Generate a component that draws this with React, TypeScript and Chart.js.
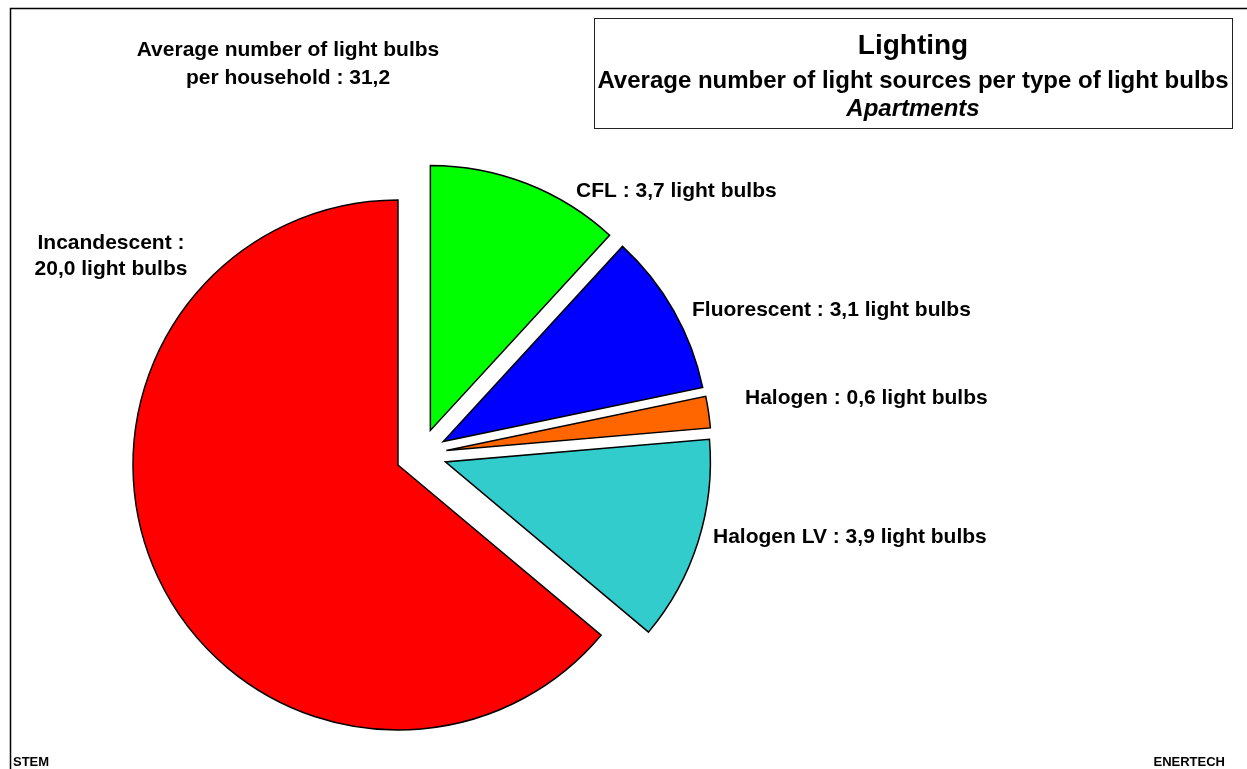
import React, { useEffect, useRef } from "react";
import { Chart, registerables } from "chart.js";

Chart.register(...registerables);

// ---- Data ----
const categories = ["CFL", "Fluorescent", "Halogen", "Halogen LV", "Incandescent"];
const bulbCounts = [3.7, 3.1, 0.6, 3.9, 20.0];
const sliceColors = ["#00FF00", "#0000FF", "#FF6600", "#33CCCC", "#FF0000"];
const averageTotal = "31,2";
const titleLines = ["Lighting", "Average number of light sources per type of light bulbs", "Apartments"];
const headlineLines = ["Average number of light bulbs", `per household : ${averageTotal}`];
const footerLeft = "STEM";
const footerRight = "ENERTECH";

// ---- Layout / style constants ----
const W = 1247;
const H = 769;
const EXPLODE = 25.5;
const RADIUS = 265;
const CENTER_X = 421.1;
const CENTER_Y = 454.2;
const FONT = "'Liberation Sans', Arial, Helvetica, sans-serif";

// label anchor: [x, baseline y, align]
const labelAnchors: [number, number, CanvasTextAlign][] = [
  [576, 197, "left"],
  [692, 316, "left"],
  [745, 404, "left"],
  [713, 543, "left"],
  [111, 249, "center"],
];

const fmt = (v: number) => v.toFixed(1).replace(".", ",");

const explodePlugin = {
  id: "explodeSlices",
  afterDatasetsUpdate(chart: any) {
    const meta = chart.getDatasetMeta(0);
    meta.data.forEach((arc: any) => {
      const mid = (arc.startAngle + arc.endAngle) / 2;
      arc.x += Math.cos(mid) * EXPLODE;
      arc.y += Math.sin(mid) * EXPLODE;
    });
  },
};

const decorPlugin = {
  id: "decor",
  afterDraw(chart: any) {
    const ctx: CanvasRenderingContext2D = chart.ctx;
    ctx.save();
    // outer frame
    ctx.strokeStyle = "#000";
    ctx.lineWidth = 1.5;
    ctx.beginPath();
    ctx.moveTo(10.5, H);
    ctx.lineTo(10.5, 8.5);
    ctx.lineTo(W, 8.5);
    ctx.stroke();

    // title box
    ctx.lineWidth = 1;
    ctx.strokeStyle = "#222";
    ctx.strokeRect(594.5, 18.5, 638, 110);

    ctx.fillStyle = "#000";
    ctx.textBaseline = "alphabetic";
    ctx.textAlign = "center";
    ctx.font = `bold 28px ${FONT}`;
    ctx.fillText(titleLines[0], 913, 54);
    ctx.font = `bold 24px ${FONT}`;
    ctx.fillText(titleLines[1], 913, 88, 634);
    ctx.font = `italic bold 24px ${FONT}`;
    ctx.fillText(titleLines[2], 913, 116);

    // headline
    ctx.font = `bold 21px ${FONT}`;
    ctx.fillText(headlineLines[0], 288, 56);
    ctx.fillText(headlineLines[1], 288, 84);

    // slice labels
    ctx.font = `bold 21px ${FONT}`;
    categories.forEach((cat, i) => {
      const [x, y, align] = labelAnchors[i];
      ctx.textAlign = align;
      if (cat === "Incandescent") {
        ctx.fillText(`${cat} :`, x, y);
        ctx.fillText(`${fmt(bulbCounts[i])} light bulbs`, x, y + 26);
      } else {
        ctx.fillText(`${cat} : ${fmt(bulbCounts[i])} light bulbs`, x, y);
      }
    });

    // footers
    ctx.font = `bold 13px ${FONT}`;
    ctx.textAlign = "left";
    ctx.fillText(footerLeft, 13, 766);
    ctx.textAlign = "right";
    ctx.fillText(footerRight, 1225, 766);
    ctx.restore();
  },
};

export default function App() {
  const canvasRef = useRef<HTMLCanvasElement | null>(null);

  useEffect(() => {
    if (!canvasRef.current) return;
    const areaRight = CENTER_X * 2;
    const areaTop = CENTER_Y - RADIUS - 14;
    const areaBottom = CENTER_Y + RADIUS + 14;
    const chart = new Chart(canvasRef.current, {
      type: "pie",
      data: {
        labels: categories,
        datasets: [
          {
            data: bulbCounts,
            backgroundColor: sliceColors,
            borderColor: "#000",
            borderWidth: 1.5,
            borderJoinStyle: "miter" as any,
          },
        ],
      },
      options: {
        responsive: false,
        animation: false,
        devicePixelRatio: 1,
        radius: RADIUS,
        rotation: 0,
        layout: {
          padding: {
            left: 0,
            right: W - areaRight,
            top: areaTop,
            bottom: H - areaBottom,
          },
        },
        plugins: {
          legend: { display: false },
          tooltip: { enabled: false },
          title: { display: false },
        },
      } as any,
      plugins: [explodePlugin, decorPlugin],
    });
    return () => chart.destroy();
  }, []);

  return (
    <div style={{ position: "absolute", left: 0, top: 0, width: W, height: H, background: "#fff", overflow: "hidden" }}>
      <canvas ref={canvasRef} width={W} height={H} style={{ display: "block" }} />
    </div>
  );
}
